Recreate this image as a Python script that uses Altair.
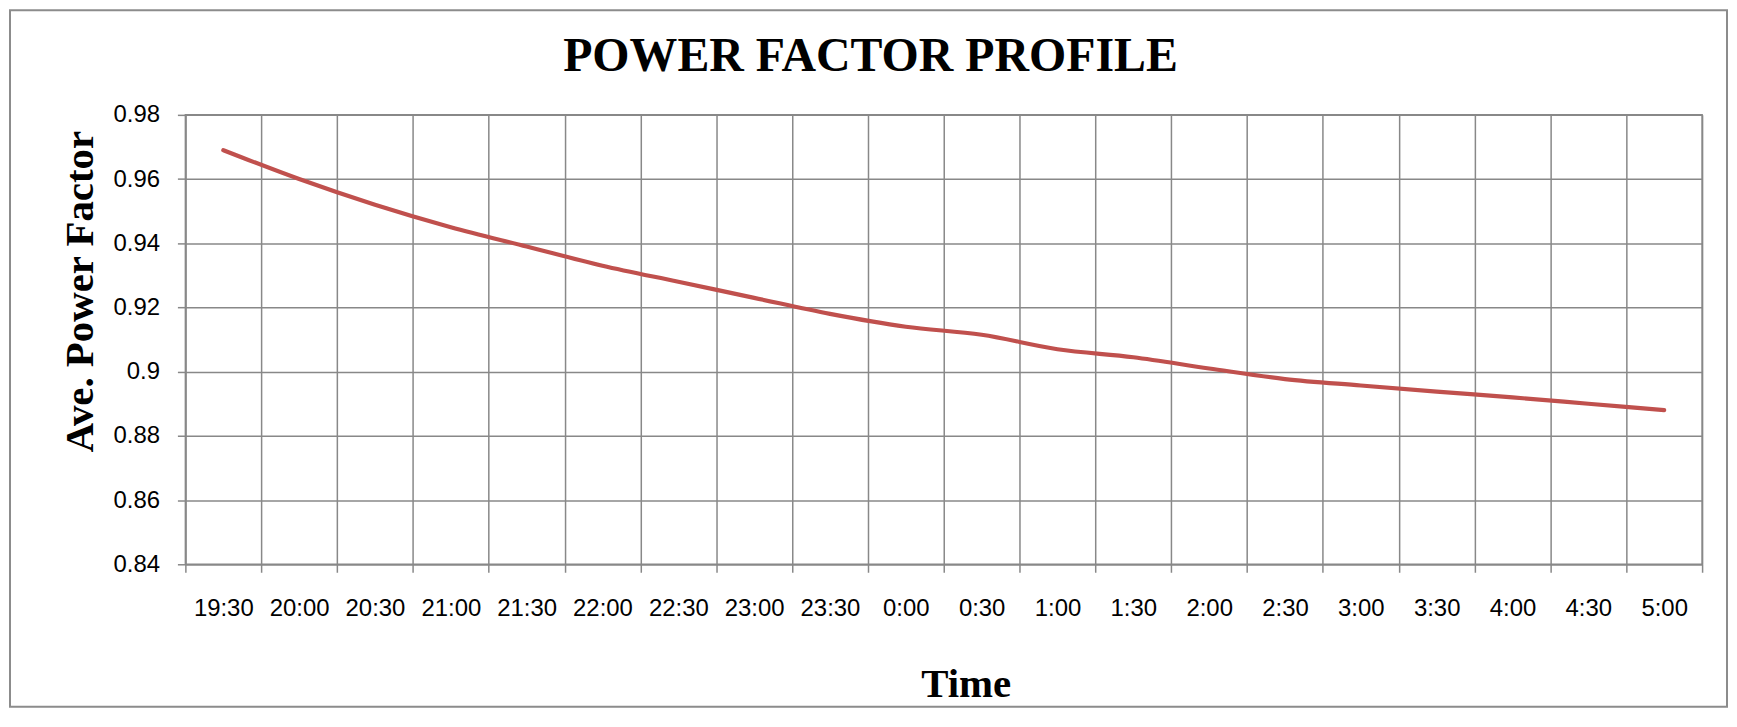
import altair as alt
import pandas as pd

# Category labels (half-hour intervals)
times = ["19:30", "20:00", "20:30", "21:00", "21:30", "22:00", "22:30", "23:00",
         "23:30", "0:00", "0:30", "1:00", "1:30", "2:00", "2:30", "3:00",
         "3:30", "4:00", "4:30", "5:00"]

# Average power factor
power_factor = [0.969, 0.960, 0.952, 0.945, 0.939, 0.933, 0.928, 0.923,
                0.918, 0.914, 0.9115, 0.907, 0.9045, 0.901, 0.8977, 0.8957,
                0.8938, 0.892, 0.890, 0.888]

y_ticks = [0.84, 0.86, 0.88, 0.90, 0.92, 0.94, 0.96, 0.98]

df = pd.DataFrame({"Time": times, "PF": power_factor})

GRID = "#888888"
SERIF = "Liberation Serif"
SANS = "Liberation Sans"

line = alt.Chart(df).mark_line(
    color="#C0504D", strokeWidth=4.2, strokeCap="round", interpolate="monotone"
).encode(
    x=alt.X(
        "Time:O",
        sort=times,
        bandPosition=0.5,
        scale=alt.Scale(type="band", paddingInner=0, paddingOuter=0),
        axis=alt.Axis(
            title="Time",
            titleFont=SERIF, titleFontSize=41, titleFontWeight="bold", titleColor="black",
            titleX=783, titleY=133, titleAlign="center", titleBaseline="alphabetic",
            labelAngle=0, labelFont=SANS, labelFontSize=24, labelColor="black",
            labelPadding=24, labelOverlap=False,
            tickBand="extent", ticks=True, tickSize=8, tickColor=GRID, tickWidth=1.5,
            grid=True, gridColor=GRID, gridWidth=1.5,
            domainColor=GRID, domainWidth=1.5,
        ),
    ),
    y=alt.Y(
        "PF:Q",
        scale=alt.Scale(domain=[0.84, 0.98], nice=False, zero=False),
        axis=alt.Axis(
            title="Ave. Power Factor",
            titleFont=SERIF, titleFontSize=41, titleFontWeight="bold", titleColor="black",
            titleX=-93, titleY=177, titleAlign="center", titleBaseline="alphabetic",
            titleAngle=270,
            values=y_ticks, format=".2~f",
            labelFont=SANS, labelFontSize=24, labelColor="black", labelPadding=18,
            tickSize=8, tickColor=GRID, tickWidth=1.5,
            grid=True, gridColor=GRID, gridWidth=1.5,
            domainColor=GRID, domainWidth=1.5,
        ),
    ),
)

frame = alt.Chart(pd.DataFrame({"k": [0]})).mark_rect(
    fill="white", fillOpacity=0, stroke="#8c8c8c", strokeWidth=2
).encode(
    x=alt.value(-176), x2=alt.value(1547), y=alt.value(-105), y2=alt.value(594)
)

chart = alt.layer(frame, line).properties(
    width=1522,
    height=451,
    title=alt.TitleParams(
        "POWER FACTOR PROFILE", font=SERIF, fontSize=48, fontWeight="bold",
        color="black", anchor="middle", dx=-73.5, dy=76,
    ),
    autosize=alt.AutoSizeParams(type="none"),
    padding={"left": 178, "top": 106, "right": 27, "bottom": 146},
).configure_view(stroke=GRID, strokeWidth=1.5)

chart.save("out.html", embed_options={"renderer": "svg", "actions": False})
